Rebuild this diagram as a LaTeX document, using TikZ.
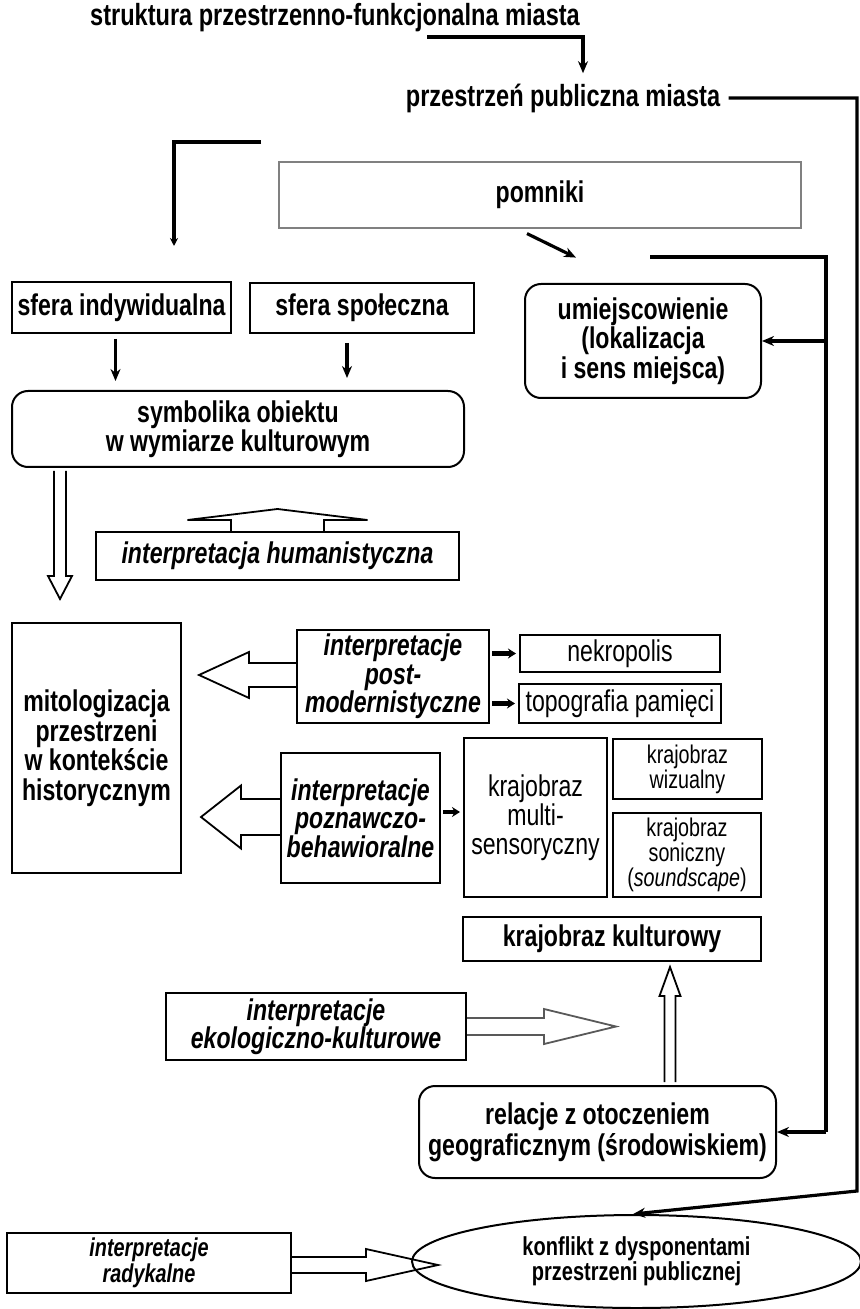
\documentclass[tikz,border=0pt]{standalone}
\usepackage{fontspec}
\setmainfont{Liberation Sans}[FakeStretch=0.77]
\usetikzlibrary{calc,arrows.meta,shapes.geometric}

\tikzset{
  box/.style={draw, line width=1pt, align=center, inner sep=0pt,
    font=\fontsize{15}{14.75}\selectfont\bfseries},
  rbox/.style={box, rounded corners=8pt},
  ibox/.style={box, font=\fontsize{15}{14.25}\selectfont\bfseries\itshape},
  lbox/.style={box, font=\fontsize{15}{14.5}\selectfont},
  sbox/.style={box, font=\fontsize{12.8}{12.5}\selectfont},
  title/.style={font=\fontsize{15.3}{15}\selectfont\bfseries, inner sep=0pt},
  conn/.style={line width=1.6pt},
  fat/.style={line width=2.2pt, -{Stealth[length=4pt,width=5pt]}, shorten >=1.5pt, shorten <=1pt},
  hollowline/.style={line width=0.9pt, line join=miter},
}

% hollow block arrow: start, angle, length, shaft half width, head half width, head length
\newcommand{\hollowarrow}[7][]{%
  \begin{scope}[shift={(#2)}, rotate=#3]
    \draw[hollowline,#1] (0,#5) -- ({#4-#7},#5) -- ({#4-#7},#6) -- (#4,0)
      -- ({#4-#7},-#6) -- ({#4-#7},-#5) -- (0,-#5);
  \end{scope}}

\begin{document}
\begin{tikzpicture}[x=0.5pt, y=-0.5pt, >={Stealth[length=6pt,width=5pt]}]

  \useasboundingbox (0,0) rectangle (860,1309);

  % Headings
  \node[title] (struktura) at (335,18) {struktura przestrzenno-funkcjonalna miasta};
  \node[title] (przestrzen) at (563,98) {przestrzeń publiczna miasta};

  % Upper boxes
  \node[box, draw=gray, line width=0.6pt, minimum width=261pt, minimum height=33pt]
    (pomniki) at (540,195) {pomniki};
  \node[box, minimum width=109.5pt, minimum height=25.5pt] (sferaI) at (121.5,307.5) {sfera indywidualna};
  \node[box, minimum width=112pt, minimum height=25pt] (sferaS) at (362,308) {sfera społeczna};
  \node[rbox, minimum width=118pt, minimum height=57pt] (umiejsc) at (643,341)
    {umiejscowienie\\(lokalizacja\\i sens miejsca)};
  \node[rbox, minimum width=226pt, minimum height=38pt] (symbolika) at (238,429)
    {symbolika obiektu\\w wymiarze kulturowym};
  \node[ibox, minimum width=181.5pt, minimum height=24pt] (humanist) at (277.5,556)
    {interpretacja humanistyczna};

  % Middle boxes
  \node[box, minimum width=84.5pt, minimum height=125pt] (mito) at (96.5,748)
    {mitologizacja\\przestrzeni\\w kontekście\\historycznym};
  \node[ibox, minimum width=96pt, minimum height=46.5pt] (post) at (393,676.5)
    {interpretacje\\post-\\modernistyczne};
  \node[lbox, minimum width=100pt, minimum height=18.5pt] (nekro) at (620,653.5) {nekropolis};
  \node[lbox, minimum width=101pt, minimum height=19.5pt] (topo) at (620,703.5) {topografia pamięci};
  \node[ibox, minimum width=79.5pt, minimum height=65pt] (poznaw) at (360.5,818)
    {interpretacje\\poznawczo-\\behawioralne};
  \node[lbox, minimum width=71.5pt, minimum height=79.5pt] (multi) at (535.5,817.5)
    {krajobraz\\multi-\\sensoryczny};
  \node[sbox, minimum width=74.5pt, minimum height=30pt] (wizual) at (687.5,769)
    {krajobraz\\wizualny};
  \node[sbox, minimum width=74pt, minimum height=42pt] (sonic) at (687,855)
    {krajobraz\\soniczny\\(\textit{soundscape})};
  \node[box, minimum width=149pt, minimum height=22pt] (kultur) at (612,939) {krajobraz kulturowy};

  % Lower boxes
  \node[ibox, minimum width=150pt, minimum height=33.5pt] (ekolog) at (316,1026.5)
    {interpretacje\\ekologiczno-kulturowe};
  \node[rbox, font=\fontsize{15}{15.5}\selectfont\bfseries, minimum width=178.5pt, minimum height=46pt]
    (relacje) at (597.5,1132) {relacje z otoczeniem\\geograficznym (środowiskiem)};
  \node[box, ellipse, font=\fontsize{13}{12.5}\selectfont\bfseries, minimum width=224.5pt, minimum height=46.5pt]
    (konflikt) at (636.5,1261.5) {konflikt z dysponentami\\przestrzeni publicznej};
  \node[ibox, font=\fontsize{12.9}{13}\selectfont\bfseries\itshape, minimum width=142pt, minimum height=30pt]
    (radykal) at (149,1263) {interpretacje\\radykalne};

  % Connectors from the headings
  \coordinate (s1) at (427,37);
  \draw[conn,->] (s1) -| ($(przestrzen.north)+(20,-10)$);
  \coordinate (e1) at (857,98);
  \coordinate (e2) at (857,1191);
  \draw[conn,->] ($(przestrzen.east)+(8,0)$) -- (e1) -- (e2) -- (konflikt.94);

  % Bracket down to the left column
  \coordinate (b1) at (261,142);
  \coordinate (b2) at (174,142);
  \draw[conn, -{Stealth[length=4pt,width=4pt]}] (b1) -- (b2) -- ($(sferaI.north)+(52.5,-35)$);

  \draw[conn,->] ($(pomniki.south)+(-13,5)$) -- ++(49,24);

  % Right-hand line
  \coordinate (r1) at (650,257);
  \coordinate (r2) at (826,257);
  \coordinate (r3) at (826,1132);
  \draw[conn] (r1) -- (r2) -- (r3);
  \draw[conn,->] (r3) -- (relacje.east);
  \draw[conn,->] (umiejsc.east -| r2) -- (umiejsc.east);

  % Spheres to symbolika
  \coordinate (aI) at ($(sferaI.south)+(-6,0)$);
  \coordinate (aS) at ($(sferaS.south)+(-15,0)$);
  \draw[conn,->,shorten <=2.5pt,shorten >=4.5pt] (aI) -- (aI |- symbolika.north);
  \draw[conn,->,shorten <=4.5pt,shorten >=6pt] (aS) -- (aS |- symbolika.north);

  % Small arrows to the landscapes
  \draw[fat] (post.east |- nekro.west) -- (nekro.west);
  \draw[fat] (post.east |- topo.west) -- (topo.west);
  \draw[fat] (poznaw.east |- 0,812) -- (multi.west |- 0,812);

  % Hollow arrows
  \hollowarrow{$(symbolika.south)+(-178,3)$}{-90}{128}{6}{12}{23}
  \hollowarrow{humanist.north}{90}{22}{46.5}{90}{11}
  \hollowarrow{$(post.west)+(0,-1.5)$}{180}{97}{12}{23}{50}
  \hollowarrow{$(poznaw.west)+(0,-1)$}{180}{79}{18}{31.5}{40}
  \hollowarrow[draw=black!65]{ekolog.east}{0}{149}{8.5}{17.5}{72}
  \hollowarrow{$(relacje.north)+(72.5,-3)$}{90}{115}{5.5}{10.5}{29}
  \hollowarrow{$(radykal.east)+(0,2)$}{0}{146}{8}{16}{72}

\end{tikzpicture}
\end{document}
